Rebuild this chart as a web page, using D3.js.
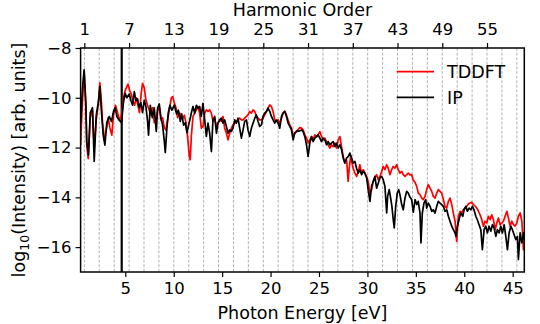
<!DOCTYPE html>
<html><head><meta charset="utf-8">
<script src="https://cdn.jsdelivr.net/npm/d3@7/dist/d3.min.js"></script>
<style>body{margin:0;background:#fff}svg{display:block}text{font-family:"DejaVu Sans",sans-serif;fill:#000}</style>
</head><body>
<script>
// ---- data ----
const omega = 0.77; // fundamental photon energy (eV)
const bandGap = 4.63;
const xTicks = [5,10,15,20,25,30,35,40,45];
const yTicks = [-8,-10,-12,-14,-16];
const orderTicks = [1,7,13,19,25,31,37,43,49,55];
const gridOrders = d3.range(1, 60, 2);
const seriesNames = ["TDDFT","IP"];
const seriesColors = ["#ff0000","#000000"];

const tddft = [[0.385,-11.9],[0.53,-10.5],[0.75,-8.95],[0.92,-10.3],[1.02,-11.9],[1.17,-12.45],[1.38,-10.8],[1.61,-10.5],[1.79,-12.0],[2.00,-10.9],[2.23,-10.2],[2.37,-9.4],[2.49,-9.9],[2.65,-11.0],[2.85,-11.7],[3.03,-11.3],[3.24,-10.8],[3.40,-11.2],[3.61,-11.5],[3.78,-10.7],[3.99,-10.3],[4.20,-10.6],[4.41,-10.9],[4.61,-10.7],[4.82,-10.0],[4.99,-9.7],[5.16,-9.55],[5.28,-9.45],[5.44,-9.7],[5.62,-9.85],[5.78,-10.1],[5.96,-10.3],[6.13,-10.0],[6.30,-10.3],[6.47,-10.6],[6.65,-9.8],[6.78,-9.42],[6.96,-9.6],[7.13,-10.1],[7.30,-10.3],[7.48,-10.5],[7.64,-10.7],[7.82,-10.4],[7.99,-11.0],[8.16,-10.9],[8.34,-10.5],[8.51,-10.4],[8.68,-10.9],[8.85,-10.8],[9.03,-11.2],[9.19,-11.3],[9.37,-10.9],[9.58,-10.4],[9.75,-10.0],[9.89,-9.95],[10.06,-10.2],[10.23,-10.4],[10.40,-10.8],[10.58,-10.6],[10.74,-10.7],[10.92,-10.85],[11.10,-10.7],[11.26,-11.0],[11.44,-11.6],[11.61,-12.36],[11.70,-12.49],[11.82,-11.55],[11.99,-10.75],[12.26,-10.55],[12.50,-10.35],[12.68,-10.62],[12.85,-11.22],[13.02,-11.15],[13.20,-10.62],[13.37,-10.49],[13.54,-10.55],[13.71,-10.49],[13.89,-10.62],[14.05,-10.95],[14.23,-10.82],[14.41,-11.15],[14.57,-11.02],[14.75,-10.89],[14.92,-10.95],[15.09,-10.75],[15.26,-11.22],[15.44,-11.42],[15.61,-11.69],[15.78,-11.42],[15.96,-11.22],[16.12,-11.09],[16.30,-11.02],[16.47,-10.95],[16.64,-10.89],[16.81,-10.82],[16.99,-10.89],[17.16,-10.89],[17.33,-10.82],[17.51,-10.75],[17.67,-10.69],[17.85,-10.55],[18.02,-10.62],[18.19,-10.49],[18.37,-10.55],[18.54,-10.75],[18.71,-10.82],[18.88,-10.89],[19.06,-10.89],[19.22,-10.82],[19.40,-10.69],[19.58,-10.55],[19.74,-10.42],[19.92,-10.29],[20.09,-10.35],[20.26,-10.55],[20.43,-10.89],[20.61,-10.95],[20.78,-10.89],[20.95,-11.02],[21.13,-10.82],[21.29,-10.62],[21.47,-10.55],[21.64,-10.69],[21.81,-10.89],[21.99,-11.09],[22.16,-11.22],[22.33,-11.55],[22.50,-11.42],[22.68,-11.35],[23.02,-11.2],[23.20,-11.22],[23.36,-11.29],[23.54,-11.49],[23.71,-11.62],[23.88,-11.82],[24.05,-11.69],[24.23,-11.56],[24.39,-11.69],[24.57,-11.49],[24.75,-11.56],[24.91,-11.49],[25.09,-11.36],[25.26,-11.56],[25.43,-11.69],[25.60,-11.62],[25.78,-11.76],[25.95,-11.89],[26.12,-12.02],[26.29,-11.89],[26.46,-11.96],[26.64,-11.82],[26.81,-12.02],[26.98,-11.69],[27.16,-11.56],[27.33,-11.96],[27.50,-12.36],[27.67,-12.62],[27.85,-12.49],[28.01,-13.36],[28.12,-12.83],[28.26,-12.36],[28.37,-12.56],[28.53,-12.83],[28.71,-13.03],[28.88,-13.16],[29.05,-12.96],[29.22,-12.69],[29.40,-13.03],[29.57,-12.89],[29.74,-13.03],[29.92,-13.16],[30.08,-13.36],[30.26,-13.83],[30.43,-13.69],[30.60,-13.36],[30.77,-13.22],[30.95,-13.09],[31.12,-13.29],[31.29,-13.16],[31.47,-12.96],[31.63,-12.76],[31.81,-12.89],[31.99,-12.69],[32.15,-12.83],[32.33,-13.09],[32.50,-12.89],[32.67,-12.76],[32.84,-12.83],[33.02,-12.69],[33.19,-12.89],[33.36,-13.03],[33.54,-12.96],[33.70,-13.09],[33.88,-13.16],[34.05,-13.09],[34.22,-13.03],[34.40,-13.1],[34.57,-13.09],[34.74,-13.32],[34.92,-13.4],[35.09,-13.56],[35.25,-13.83],[35.43,-13.89],[35.61,-14.03],[35.77,-14.09],[35.95,-13.96],[36.12,-13.69],[36.29,-13.49],[36.47,-13.63],[36.64,-13.76],[36.80,-13.96],[36.98,-14.03],[37.16,-13.83],[37.32,-13.69],[37.50,-13.76],[37.67,-13.83],[37.84,-14.09],[38.01,-14.36],[38.19,-14.43],[38.36,-14.16],[38.53,-14.03],[38.71,-14.29],[38.87,-14.63],[39.05,-14.96],[39.22,-15.77],[39.39,-14.76],[39.57,-14.56],[39.74,-14.62],[39.91,-14.5],[40.08,-14.42],[40.26,-14.36],[40.43,-14.26],[40.60,-14.23],[40.77,-14.2],[40.94,-14.29],[41.12,-14.35],[41.29,-14.43],[41.46,-14.55],[41.63,-14.7],[41.81,-14.9],[41.98,-15.16],[42.15,-14.96],[42.33,-15.03],[42.49,-14.76],[42.67,-14.9],[42.84,-14.7],[43.01,-14.9],[43.19,-15.3],[43.36,-15.03],[43.53,-14.83],[43.70,-15.1],[43.88,-15.03],[44.04,-14.96],[44.22,-14.76],[44.40,-14.56],[44.56,-14.83],[44.74,-15.16],[44.91,-14.96],[45.08,-15.1],[45.25,-15.16],[45.43,-15.03],[45.59,-14.76],[45.77,-14.63],[45.95,-14.96],[46.11,-16.1],[46.2,-15.9]];

const ip = [[0.385,-11.0],[0.58,-9.6],[0.75,-8.88],[0.92,-10.15],[1.02,-11.76],[1.20,-12.3],[1.38,-10.6],[1.61,-10.4],[1.79,-12.56],[2.00,-10.7],[2.23,-10.15],[2.37,-9.55],[2.54,-10.55],[2.72,-11.5],[2.89,-11.9],[3.09,-11.0],[3.34,-10.75],[3.58,-10.95],[3.78,-10.55],[3.96,-10.4],[4.13,-10.75],[4.37,-10.9],[4.61,-11.0],[4.82,-10.15],[4.99,-9.82],[5.16,-10.0],[5.41,-9.85],[5.57,-10.1],[5.75,-10.3],[5.93,-9.75],[6.09,-10.1],[6.27,-10.05],[6.44,-10.4],[6.61,-10.2],[6.78,-10.6],[6.96,-10.1],[7.13,-10.35],[7.30,-10.95],[7.40,-11.5],[7.58,-10.3],[7.79,-10.8],[7.99,-10.4],[8.20,-11.35],[8.34,-10.4],[8.51,-10.25],[8.68,-10.8],[8.85,-11.1],[9.03,-11.75],[9.13,-12.2],[9.30,-11.2],[9.44,-10.6],[9.61,-10.3],[9.81,-10.5],[10.06,-10.3],[10.30,-10.65],[10.48,-10.5],[10.68,-10.95],[10.82,-10.65],[11.02,-11.1],[11.20,-11.0],[11.36,-11.4],[11.54,-11.1],[11.75,-10.75],[11.85,-10.55],[11.99,-10.35],[12.16,-10.62],[12.34,-10.3],[12.50,-10.42],[12.68,-10.35],[12.85,-10.75],[13.02,-10.22],[13.20,-10.9],[13.37,-11.55],[13.54,-11.02],[13.71,-11.42],[13.89,-12.16],[14.05,-10.9],[14.23,-10.75],[14.41,-11.42],[14.57,-11.02],[14.75,-10.89],[14.92,-10.82],[15.09,-11.02],[15.26,-10.89],[15.44,-11.15],[15.61,-11.42],[15.78,-11.29],[15.96,-11.35],[16.12,-11.22],[16.30,-10.89],[16.47,-11.02],[16.64,-10.82],[16.81,-11.22],[16.99,-11.62],[17.16,-11.29],[17.33,-10.95],[17.51,-10.89],[17.67,-11.29],[17.85,-11.55],[18.02,-11.22],[18.19,-11.02],[18.37,-10.82],[18.54,-10.69],[18.71,-10.95],[18.88,-11.15],[19.06,-11.09],[19.22,-10.75],[19.40,-10.62],[19.58,-10.55],[19.74,-10.42],[19.92,-10.55],[20.09,-10.75],[20.26,-10.89],[20.43,-11.02],[20.61,-10.89],[20.78,-11.02],[20.95,-11.22],[21.13,-10.75],[21.29,-10.62],[21.47,-10.55],[21.64,-10.75],[21.81,-11.02],[21.99,-11.15],[22.16,-11.29],[22.33,-11.69],[22.50,-11.42],[22.68,-11.35],[23.02,-11.33],[23.20,-11.29],[23.36,-11.36],[23.54,-11.56],[23.71,-11.89],[23.88,-12.36],[24.05,-11.82],[24.23,-11.56],[24.39,-11.76],[24.57,-11.62],[24.75,-11.56],[24.91,-11.49],[25.09,-11.62],[25.26,-11.76],[25.43,-11.62],[25.60,-11.69],[25.78,-11.89],[25.95,-11.76],[26.12,-11.89],[26.29,-11.82],[26.46,-11.76],[26.64,-11.96],[26.81,-11.82],[26.98,-12.02],[27.16,-11.89],[27.33,-12.09],[27.50,-12.42],[27.67,-12.62],[27.85,-12.42],[28.01,-12.36],[28.19,-12.22],[28.37,-12.42],[28.53,-12.62],[28.71,-12.56],[28.88,-12.83],[29.05,-13.03],[29.22,-12.89],[29.40,-13.09],[29.57,-12.96],[29.74,-13.03],[29.92,-13.22],[30.08,-13.69],[30.26,-14.16],[30.43,-13.56],[30.60,-13.36],[30.77,-13.16],[30.95,-13.63],[31.12,-13.43],[31.29,-13.22],[31.47,-13.16],[31.63,-13.29],[31.81,-13.56],[31.99,-14.63],[32.09,-13.96],[32.25,-13.69],[32.40,-14.03],[32.53,-14.36],[32.67,-14.9],[32.77,-15.23],[32.92,-14.36],[33.08,-13.83],[33.23,-13.69],[33.36,-13.89],[33.54,-14.29],[33.70,-14.5],[33.88,-14.03],[34.05,-13.76],[34.22,-13.83],[34.40,-14.0],[34.57,-14.09],[34.74,-14.6],[34.92,-14.09],[35.09,-14.29],[35.25,-14.16],[35.43,-14.63],[35.53,-15.83],[35.67,-14.63],[35.84,-14.23],[36.02,-14.09],[36.12,-14.43],[36.29,-14.23],[36.47,-14.36],[36.64,-14.56],[36.80,-14.5],[36.98,-14.63],[37.16,-14.36],[37.32,-14.16],[37.50,-14.23],[37.67,-14.29],[37.84,-14.36],[38.01,-14.56],[38.19,-14.5],[38.36,-14.76],[38.53,-14.96],[38.71,-15.16],[38.87,-15.3],[39.05,-15.43],[39.15,-15.57],[39.29,-15.16],[39.46,-14.9],[39.64,-14.63],[39.85,-14.76],[39.98,-14.5],[40.16,-14.36],[40.32,-14.56],[40.50,-14.43],[40.67,-14.5],[40.84,-14.36],[41.01,-14.5],[41.19,-14.76],[41.35,-14.9],[41.53,-15.1],[41.71,-15.3],[41.87,-16.1],[42.05,-15.3],[42.22,-15.16],[42.39,-15.43],[42.56,-15.16],[42.74,-15.36],[42.91,-15.1],[43.08,-15.23],[43.26,-15.57],[43.42,-15.3],[43.60,-15.43],[43.77,-15.16],[43.94,-15.43],[44.12,-15.1],[44.29,-15.57],[44.46,-16.1],[44.63,-15.43],[44.81,-15.16],[44.97,-15.3],[45.15,-15.5],[45.33,-15.7],[45.49,-15.57],[45.59,-16.5],[45.77,-15.43],[45.95,-15.83],[46.11,-15.43],[46.2,-15.7]];

// ---- layout ----
const W = 540, H = 324;
const L = 80.6, R = 524.3, T = 48, B = 272;
const svg = d3.select("body").append("svg").attr("width", W).attr("height", H);

const x = d3.scaleLinear().domain([omega/2, 60*omega]).range([L, R]);
const y = d3.scaleLinear().domain([-17, -8]).range([B, T]);

svg.append("defs").append("clipPath").attr("id","clip")
  .append("rect").attr("x", L).attr("y", T).attr("width", R-L).attr("height", B-T);

// grid at odd harmonics
svg.append("g").selectAll("line").data(gridOrders).join("line")
  .attr("x1", d => x(d*omega)).attr("x2", d => x(d*omega))
  .attr("y1", T).attr("y2", B)
  .attr("stroke", "#a0a0a0").attr("stroke-width", 0.8).attr("stroke-dasharray", "3,1.6");

// band gap line
svg.append("line").attr("x1", x(bandGap)).attr("x2", x(bandGap)).attr("y1", T).attr("y2", B)
  .attr("stroke", "#000").attr("stroke-width", 2.2);

// curves
const line = d3.line().x(d => x(d[0])).y(d => y(d[1]));
const curves = svg.append("g").attr("clip-path", "url(#clip)");
[tddft, ip].forEach((s, i) => {
  curves.append("path").datum(s).attr("d", line).attr("fill", "none")
    .attr("stroke", seriesColors[i]).attr("stroke-width", 1.7).attr("stroke-linejoin", "round");
});

// axes
const fmt = d3.format("d");
function styleAxis(g, fs) {
  g.select(".domain").remove();
  g.selectAll(".tick line").attr("stroke", "#000").attr("stroke-width", 1.2);
  g.selectAll(".tick text").style("font-size", fs + "px").style("font-family", '"DejaVu Sans",sans-serif');
}
svg.append("g").attr("transform", `translate(0,${B})`)
  .call(d3.axisBottom(x).tickValues(xTicks).tickFormat(fmt).tickSize(5).tickPadding(5.5))
  .call(g => styleAxis(g, 16.5));
svg.append("g").attr("transform", `translate(${L},0)`)
  .call(d3.axisLeft(y).tickValues(yTicks).tickFormat(fmt).tickSize(5).tickPadding(4))
  .call(g => styleAxis(g, 16.5));
svg.append("g").attr("transform", `translate(0,${T})`)
  .call(d3.axisTop(x).tickValues(orderTicks.map(o => o*omega)).tickFormat((d, i) => orderTicks[i]).tickSize(5).tickPadding(8.5))
  .call(g => styleAxis(g, 16.5));

// frame
svg.append("rect").attr("x", L).attr("y", T).attr("width", R-L).attr("height", B-T)
  .attr("fill", "none").attr("stroke", "#000").attr("stroke-width", 1.5);

// labels
svg.append("text").attr("x", (L+R)/2).attr("y", 319).attr("text-anchor", "middle")
  .style("font-size", "17.5px").text("Photon Energy [eV]");
svg.append("text").attr("x", (L+R)/2).attr("y", 15.5).attr("text-anchor", "middle")
  .style("font-size", "17.5px").text("Harmonic Order");
const yl = svg.append("text").attr("transform", `translate(25,${(T+B)/2}) rotate(-90)`)
  .attr("text-anchor", "middle").style("font-size", "17.5px");
yl.append("tspan").text("log");
yl.append("tspan").attr("dy", 4).style("font-size", "12.5px").text("10");
yl.append("tspan").attr("dy", -4).text("(Intensity) [arb. units]");

// legend
const lg = svg.append("g");
const legY = [71.7, 97.3];
seriesNames.forEach((n, i) => {
  lg.append("line").attr("x1", 396.7).attr("x2", 434).attr("y1", legY[i]).attr("y2", legY[i])
    .attr("stroke", seriesColors[i]).attr("stroke-width", 1.7);
  lg.append("text").attr("x", 447).attr("y", legY[i]).attr("dy", "0.36em")
    .style("font-size", "17.5px").text(n);
});
</script>
</body></html>
